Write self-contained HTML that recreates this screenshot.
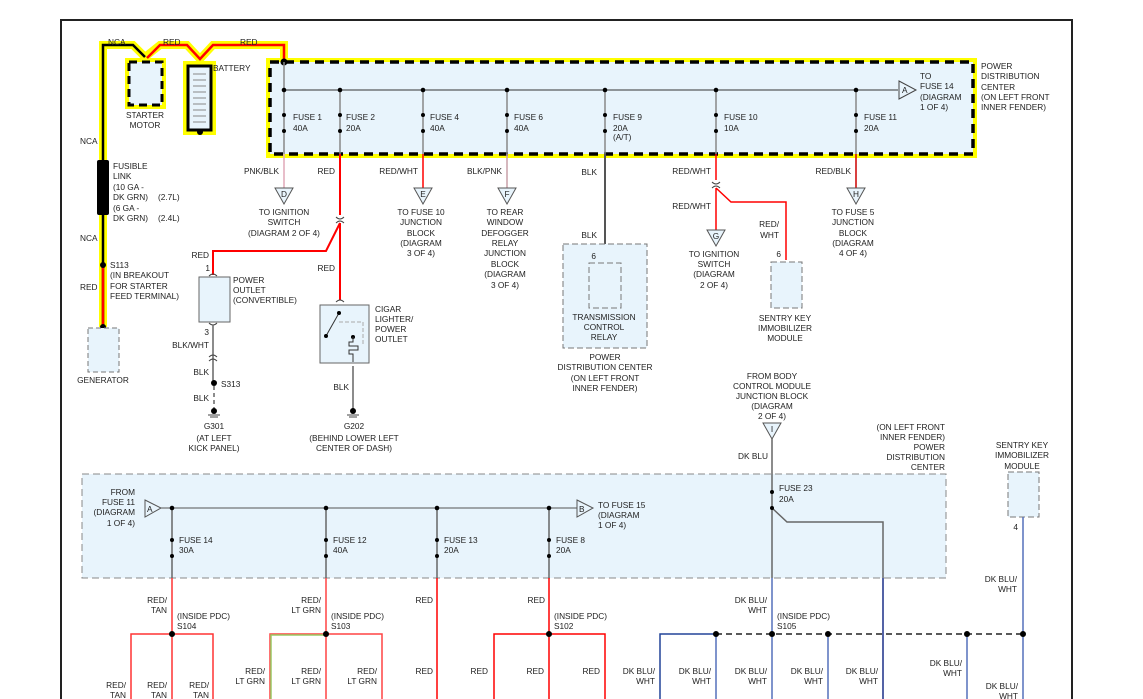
<!DOCTYPE html>
<html><head><meta charset="utf-8"><style>
html,body{margin:0;padding:0;background:#fff}
svg{display:block}
text{font-family:"Liberation Sans",sans-serif;font-size:8.3px;fill:#222}
.r{text-anchor:end}.m{text-anchor:middle}
</style></head><body>
<svg width="1143" height="699" viewBox="0 0 1143 699" xmlns="http://www.w3.org/2000/svg">
<rect x="61" y="20" width="1011" height="700" fill="#fff" stroke="#222" stroke-width="2"/>

<!-- yellow highlights -->
<g fill="none" stroke="#ffff00" stroke-width="8" stroke-linejoin="miter">
<path d="M103,327 V45 H133 L145,57 L160,45 H187 L200,59 L213,45 H284 V62"/>
<rect x="270" y="62" width="703" height="92"/>
<rect x="129" y="62" width="33" height="43"/>
<rect x="187" y="65" width="25" height="66"/>
</g>
<!-- top PDC -->
<rect x="270" y="62" width="703" height="92" fill="#e8f4fc"/>
<rect x="129" y="62" width="33" height="43" fill="#e8f4fc"/>
<rect x="270" y="62" width="703" height="92" fill="none" stroke="#000" stroke-width="3.5" stroke-dasharray="9,6"/>
<rect x="129" y="62" width="33" height="43" fill="none" stroke="#000" stroke-width="3" stroke-dasharray="8,5"/>
<rect x="188" y="66" width="23" height="64" fill="#e8f4fc" stroke="#000" stroke-width="3"/>
<g stroke="#888" stroke-width="1"><line x1="193" y1="74" x2="206" y2="74"/><line x1="193" y1="80" x2="206" y2="80"/><line x1="193" y1="86" x2="206" y2="86"/><line x1="193" y1="92" x2="206" y2="92"/><line x1="193" y1="98" x2="206" y2="98"/><line x1="193" y1="104" x2="206" y2="104"/><line x1="193" y1="110" x2="206" y2="110"/><line x1="193" y1="116" x2="206" y2="116"/><line x1="193" y1="122" x2="206" y2="122"/></g>
<circle cx="200" cy="132" r="3" fill="#000"/>

<!-- top wires -->
<path d="M103,327 V45 H133 L145,57" fill="none" stroke="#000" stroke-width="2.5"/>
<path d="M147,58 L160,45 H187 L200,59 L213,45 H284 V62" fill="none" stroke="#f00" stroke-width="2.5"/>
<line x1="103" y1="265" x2="103" y2="327" stroke="#f00" stroke-width="2.5"/>
<rect x="97" y="160" width="12" height="55" fill="#000" rx="2"/>
<circle cx="284" cy="62" r="3.5" fill="#000"/>
<line x1="284" y1="90" x2="898" y2="90" stroke="#333" stroke-width="1"/>
<path d="M899,81 L916,90 L899,99 Z" fill="#e8f4fc" stroke="#444"/>
<text x="902" y="93">A</text>

<g stroke="#888" stroke-width="1.5" fill="none">
<line x1="284" y1="62" x2="284" y2="154"/>
<line x1="340" y1="90" x2="340" y2="154"/>
<line x1="423" y1="90" x2="423" y2="154"/>
<line x1="507" y1="90" x2="507" y2="154"/>
<line x1="605" y1="90" x2="605" y2="154"/>
<line x1="716" y1="90" x2="716" y2="154"/>
<line x1="856" y1="90" x2="856" y2="154"/>
</g>
<g fill="#000">
<circle cx="284" cy="90" r="2.3"/><circle cx="340" cy="90" r="2.3"/><circle cx="423" cy="90" r="2.3"/><circle cx="507" cy="90" r="2.3"/><circle cx="605" cy="90" r="2.3"/><circle cx="716" cy="90" r="2.3"/><circle cx="856" cy="90" r="2.3"/>
<circle cx="284" cy="115" r="2"/><circle cx="284" cy="131" r="2"/>
<circle cx="340" cy="115" r="2"/><circle cx="340" cy="131" r="2"/>
<circle cx="423" cy="115" r="2"/><circle cx="423" cy="131" r="2"/>
<circle cx="507" cy="115" r="2"/><circle cx="507" cy="131" r="2"/>
<circle cx="605" cy="115" r="2"/><circle cx="605" cy="131" r="2"/>
<circle cx="716" cy="115" r="2"/><circle cx="716" cy="131" r="2"/>
<circle cx="856" cy="115" r="2"/><circle cx="856" cy="131" r="2"/>
</g>
<text x="293" y="120">FUSE 1</text><text x="293" y="131">40A</text>
<text x="346" y="120">FUSE 2</text><text x="346" y="131">20A</text>
<text x="430" y="120">FUSE 4</text><text x="430" y="131">40A</text>
<text x="514" y="120">FUSE 6</text><text x="514" y="131">40A</text>
<text x="613" y="120">FUSE 9</text><text x="613" y="131">20A</text><text x="613" y="140">(A/T)</text>
<text x="724" y="120">FUSE 10</text><text x="724" y="131">10A</text>
<text x="864" y="120">FUSE 11</text><text x="864" y="131">20A</text>
<text x="920" y="79">TO</text><text x="920" y="89">FUSE 14</text><text x="920" y="100">(DIAGRAM</text><text x="920" y="110">1 OF 4)</text>
<text x="981" y="69">POWER</text><text x="981" y="79">DISTRIBUTION</text><text x="981" y="90">CENTER</text><text x="981" y="100">(ON LEFT FRONT</text><text x="981" y="110">INNER FENDER)</text>

<text x="108" y="45">NCA</text><text x="163" y="45">RED</text><text x="240" y="45">RED</text>
<text x="213" y="71">BATTERY</text>
<text x="145" y="118" class="m">STARTER</text><text x="145" y="128" class="m">MOTOR</text>
<text x="80" y="144">NCA</text><text x="80" y="241">NCA</text><text x="80" y="290">RED</text>
<text x="113" y="169">FUSIBLE</text><text x="113" y="179">LINK</text><text x="113" y="190">(10 GA -</text><text x="113" y="200">DK GRN)</text><text x="158" y="200">(2.7L)</text><text x="113" y="211">(6 GA -</text><text x="113" y="221">DK GRN)</text><text x="158" y="221">(2.4L)</text>
<circle cx="103" cy="265" r="3" fill="#000"/><circle cx="103" cy="327" r="3" fill="#000"/>
<text x="110" y="268">S113</text><text x="110" y="278">(IN BREAKOUT</text><text x="110" y="289">FOR STARTER</text><text x="110" y="299">FEED TERMINAL)</text>
<rect x="88" y="328" width="31" height="44" fill="#e8f4fc" stroke="#777" stroke-dasharray="5,3"/>
<text x="103" y="383" class="m">GENERATOR</text>

<!-- down wires from top PDC -->
<line x1="284" y1="154" x2="284" y2="188" stroke="#e0a8b8" stroke-width="1.5"/>
<line x1="340" y1="154" x2="340" y2="215" stroke="#f00" stroke-width="2"/>
<path d="M336,217 Q340,221 344,217 M336,223 Q340,219 344,223" fill="none" stroke="#444"/>
<path d="M340,223 L326,251 H213 V275" fill="none" stroke="#f00" stroke-width="2"/>
<line x1="340" y1="223" x2="340" y2="300" stroke="#f00" stroke-width="2"/>
<line x1="423" y1="154" x2="423" y2="188" stroke="#f00" stroke-width="1.5"/>
<line x1="507" y1="154" x2="507" y2="188" stroke="#c8a0a8" stroke-width="1.5"/>
<line x1="605" y1="154" x2="605" y2="262" stroke="#555" stroke-width="2"/>
<line x1="716" y1="154" x2="716" y2="180" stroke="#f00" stroke-width="1.5"/>
<path d="M712,182 Q716,186 720,182 M712,188 Q716,184 720,188" fill="none" stroke="#444"/>
<path d="M716,188 V230 M716,188 L731,202 H786 V260" fill="none" stroke="#f00" stroke-width="1.5"/>
<line x1="856" y1="154" x2="856" y2="188" stroke="#c00" stroke-width="1.5"/>
<g fill="#e8f4fc" stroke="#555">
<path d="M275,188 H293 L284,204 Z"/><path d="M414,188 H432 L423,204 Z"/><path d="M498,188 H516 L507,204 Z"/><path d="M707,230 H725 L716,246 Z"/><path d="M847,188 H865 L856,204 Z"/><path d="M763,423 H781 L772,439 Z"/>
</g>
<text x="284" y="197" class="m">D</text><text x="423" y="197" class="m">E</text><text x="507" y="197" class="m">F</text><text x="716" y="239" class="m">G</text><text x="856" y="197" class="m">H</text><text x="772" y="432" class="m">I</text>
<text x="279" y="174" class="r">PNK/BLK</text><text x="335" y="174" class="r">RED</text><text x="418" y="174" class="r">RED/WHT</text><text x="502" y="174" class="r">BLK/PNK</text><text x="711" y="174" class="r">RED/WHT</text><text x="851" y="174" class="r">RED/BLK</text>
<text x="711" y="209" class="r">RED/WHT</text><text x="779" y="227" class="r">RED/</text><text x="779" y="238" class="r">WHT</text>
<text x="284" y="215" class="m">TO IGNITION</text><text x="284" y="225" class="m">SWITCH</text><text x="284" y="236" class="m">(DIAGRAM 2 OF 4)</text>
<text x="421" y="215" class="m">TO FUSE 10</text><text x="421" y="225" class="m">JUNCTION</text><text x="421" y="236" class="m">BLOCK</text><text x="421" y="246" class="m">(DIAGRAM</text><text x="421" y="256" class="m">3 OF 4)</text>
<text x="505" y="215" class="m">TO REAR</text><text x="505" y="225" class="m">WINDOW</text><text x="505" y="236" class="m">DEFOGGER</text><text x="505" y="246" class="m">RELAY</text><text x="505" y="256" class="m">JUNCTION</text><text x="505" y="267" class="m">BLOCK</text><text x="505" y="277" class="m">(DIAGRAM</text><text x="505" y="288" class="m">3 OF 4)</text>
<text x="714" y="257" class="m">TO IGNITION</text><text x="714" y="267" class="m">SWITCH</text><text x="714" y="277" class="m">(DIAGRAM</text><text x="714" y="288" class="m">2 OF 4)</text>
<text x="853" y="215" class="m">TO FUSE 5</text><text x="853" y="225" class="m">JUNCTION</text><text x="853" y="236" class="m">BLOCK</text><text x="853" y="246" class="m">(DIAGRAM</text><text x="853" y="256" class="m">4 OF 4)</text>

<!-- power outlet -->
<text x="209" y="258" class="r">RED</text><text x="210" y="271" class="r">1</text>
<path d="M209,276 Q213,272 217,276" fill="none" stroke="#444"/>
<rect x="199" y="277" width="31" height="45" fill="#e8f4fc" stroke="#666"/>
<text x="233" y="283">POWER</text><text x="233" y="293">OUTLET</text><text x="233" y="303">(CONVERTIBLE)</text>
<path d="M209,323 Q213,327 217,323" fill="none" stroke="#444"/>
<text x="209" y="335" class="r">3</text>
<line x1="213" y1="325" x2="213" y2="383" stroke="#666" stroke-width="1.5"/>
<path d="M209,357 Q213,353 217,357 M209,361 Q213,357 217,361" fill="none" stroke="#444"/>
<text x="209" y="348" class="r">BLK/WHT</text><text x="209" y="375" class="r">BLK</text><text x="209" y="401" class="r">BLK</text>
<circle cx="214" cy="383" r="3" fill="#000"/><text x="221" y="387">S313</text>
<line x1="214" y1="386" x2="214" y2="410" stroke="#666" stroke-width="1.5" stroke-dasharray="4,3"/>
<circle cx="214" cy="411" r="3" fill="#000"/><line x1="208" y1="415" x2="220" y2="415" stroke="#444"/><line x1="210" y1="417" x2="218" y2="417" stroke="#444"/>
<text x="214" y="429" class="m">G301</text><text x="214" y="441" class="m">(AT LEFT</text><text x="214" y="451" class="m">KICK PANEL)</text>

<!-- cigar lighter -->
<text x="335" y="271" class="r">RED</text>
<path d="M336,302 Q340,298 344,302" fill="none" stroke="#444"/>
<rect x="320" y="305" width="49" height="58" fill="#e8f4fc" stroke="#666"/>
<path d="M339,322 H363 V346" fill="none" stroke="#aaa" stroke-dasharray="4,2"/>
<line x1="326" y1="336" x2="339" y2="313" stroke="#333"/>
<circle cx="339" cy="313" r="2" fill="#000"/><circle cx="326" cy="336" r="2" fill="#000"/><circle cx="353" cy="337" r="2" fill="#000"/>
<path d="M353,337 V342 H349 V346 H358 V350 H349 V354 H353 V362" fill="none" stroke="#333"/>
<text x="375" y="312">CIGAR</text><text x="375" y="322">LIGHTER/</text><text x="375" y="332">POWER</text><text x="375" y="342">OUTLET</text>
<line x1="353" y1="366" x2="353" y2="409" stroke="#666" stroke-width="1.5"/>
<text x="349" y="390" class="r">BLK</text>
<circle cx="353" cy="411" r="3" fill="#000"/><line x1="347" y1="415" x2="359" y2="415" stroke="#444"/><line x1="349" y1="417" x2="357" y2="417" stroke="#444"/>
<text x="354" y="429" class="m">G202</text><text x="354" y="441" class="m">(BEHIND LOWER LEFT</text><text x="354" y="451" class="m">CENTER OF DASH)</text>

<!-- relay -->
<rect x="563" y="244" width="84" height="104" fill="#e8f4fc" stroke="#777" stroke-dasharray="6,3"/>
<rect x="589" y="263" width="32" height="45" fill="#e8f4fc" stroke="#777" stroke-dasharray="6,3"/>
<text x="597" y="175" class="r">BLK</text><text x="597" y="238" class="r">BLK</text><text x="596" y="259" class="r">6</text>
<text x="604" y="320" class="m">TRANSMISSION</text><text x="604" y="330" class="m">CONTROL</text><text x="604" y="340" class="m">RELAY</text>
<text x="605" y="360" class="m">POWER</text><text x="605" y="370" class="m">DISTRIBUTION CENTER</text><text x="605" y="381" class="m">(ON LEFT FRONT</text><text x="605" y="391" class="m">INNER FENDER)</text>
<rect x="771" y="262" width="31" height="46" fill="#e8f4fc" stroke="#777" stroke-dasharray="6,3"/>
<text x="781" y="257" class="r">6</text>
<text x="785" y="321" class="m">SENTRY KEY</text><text x="785" y="331" class="m">IMMOBILIZER</text><text x="785" y="341" class="m">MODULE</text>
<text x="772" y="379" class="m">FROM BODY</text><text x="772" y="389" class="m">CONTROL MODULE</text><text x="772" y="399" class="m">JUNCTION BLOCK</text><text x="772" y="409" class="m">(DIAGRAM</text><text x="772" y="419" class="m">2 OF 4)</text>
<text x="768" y="459" class="r">DK BLU</text>
<text x="945" y="430" class="r">(ON LEFT FRONT</text><text x="945" y="440" class="r">INNER FENDER)</text><text x="945" y="450" class="r">POWER</text><text x="945" y="460" class="r">DISTRIBUTION</text><text x="945" y="470" class="r">CENTER</text>
<text x="1022" y="448" class="m">SENTRY KEY</text><text x="1022" y="458" class="m">IMMOBILIZER</text><text x="1022" y="469" class="m">MODULE</text>

<!-- bottom PDC -->
<rect x="82" y="474" width="864" height="104" fill="#e8f4fc" stroke="#888" stroke-dasharray="7,4"/>
<rect x="1008" y="472" width="31" height="45" fill="#e8f4fc" stroke="#777" stroke-dasharray="6,3"/>
<line x1="160" y1="508" x2="577" y2="508" stroke="#555"/>
<path d="M145,500 L161,508 L145,517 Z" fill="#e8f4fc" stroke="#555"/><text x="147" y="512">A</text>
<path d="M577,500 L593,508 L577,517 Z" fill="#e8f4fc" stroke="#555"/><text x="579" y="512">B</text>
<text x="135" y="495" class="r">FROM</text><text x="135" y="505" class="r">FUSE 11</text><text x="135" y="515" class="r">(DIAGRAM</text><text x="135" y="526" class="r">1 OF 4)</text>
<text x="598" y="508">TO FUSE 15</text><text x="598" y="518">(DIAGRAM</text><text x="598" y="528">1 OF 4)</text>
<g stroke="#666" stroke-width="1.5"><line x1="172" y1="508" x2="172" y2="578"/><line x1="326" y1="508" x2="326" y2="578"/><line x1="437" y1="508" x2="437" y2="578"/><line x1="549" y1="508" x2="549" y2="578"/><line x1="772" y1="438" x2="772" y2="578"/></g>
<path d="M772,508 L787,522 H883 V578" fill="none" stroke="#666" stroke-width="1.5"/>
<g fill="#000"><circle cx="172" cy="508" r="2.3"/><circle cx="326" cy="508" r="2.3"/><circle cx="437" cy="508" r="2.3"/><circle cx="549" cy="508" r="2.3"/>
<circle cx="172" cy="540" r="2"/><circle cx="172" cy="556" r="2"/><circle cx="326" cy="540" r="2"/><circle cx="326" cy="556" r="2"/><circle cx="437" cy="540" r="2"/><circle cx="437" cy="556" r="2"/><circle cx="549" cy="540" r="2"/><circle cx="549" cy="556" r="2"/><circle cx="772" cy="492" r="2"/><circle cx="772" cy="508" r="2"/></g>
<text x="179" y="543">FUSE 14</text><text x="179" y="553">30A</text>
<text x="333" y="543">FUSE 12</text><text x="333" y="553">40A</text>
<text x="444" y="543">FUSE 13</text><text x="444" y="553">20A</text>
<text x="556" y="543">FUSE 8</text><text x="556" y="553">20A</text>
<text x="779" y="491">FUSE 23</text><text x="779" y="502">20A</text>

<!-- bottom wires -->
<g fill="none" stroke-width="1.5">
<path d="M172,578 V699 M131,699 V634 H213 V699" stroke="#f33"/>
<path d="M326,578 V699 M270,699 V634 H382 V699" stroke="#f44"/>
<path d="M271,699 V635 H325" stroke="#9c6"/>
<line x1="437" y1="578" x2="437" y2="699" stroke="#f00"/>
<path d="M549,578 V699 M494,699 V634 H605 V699" stroke="#f00"/>
<path d="M660,699 V634 H716" stroke="#224499"/>
<path d="M716,634 V699 M772,578 V699 M828,634 V699 M967,634 V699 M1023,517 V699" stroke="#5570bb"/>
<line x1="883" y1="578" x2="883" y2="699" stroke="#1a2f88"/>
<line x1="716" y1="634" x2="1023" y2="634" stroke="#222" stroke-dasharray="6,4"/>
</g>
<g fill="#000"><circle cx="172" cy="634" r="3"/><circle cx="326" cy="634" r="3"/><circle cx="549" cy="634" r="3"/><circle cx="716" cy="634" r="3"/><circle cx="772" cy="634" r="3"/><circle cx="828" cy="634" r="3"/><circle cx="967" cy="634" r="3"/><circle cx="1023" cy="634" r="3"/></g>
<text x="1018" y="530" class="r">4</text>
<text x="167" y="603" class="r">RED/</text><text x="167" y="613" class="r">TAN</text>
<text x="321" y="603" class="r">RED/</text><text x="321" y="613" class="r">LT GRN</text>
<text x="433" y="603" class="r">RED</text><text x="545" y="603" class="r">RED</text>
<text x="767" y="603" class="r">DK BLU/</text><text x="767" y="613" class="r">WHT</text>
<text x="1017" y="582" class="r">DK BLU/</text><text x="1017" y="592" class="r">WHT</text>
<text x="177" y="619">(INSIDE PDC)</text><text x="177" y="629">S104</text>
<text x="331" y="619">(INSIDE PDC)</text><text x="331" y="629">S103</text>
<text x="554" y="619">(INSIDE PDC)</text><text x="554" y="629">S102</text>
<text x="777" y="619">(INSIDE PDC)</text><text x="777" y="629">S105</text>
<text x="126" y="688" class="r">RED/</text><text x="126" y="698" class="r">TAN</text>
<text x="167" y="688" class="r">RED/</text><text x="167" y="698" class="r">TAN</text>
<text x="209" y="688" class="r">RED/</text><text x="209" y="698" class="r">TAN</text>
<text x="265" y="674" class="r">RED/</text><text x="265" y="684" class="r">LT GRN</text>
<text x="321" y="674" class="r">RED/</text><text x="321" y="684" class="r">LT GRN</text>
<text x="377" y="674" class="r">RED/</text><text x="377" y="684" class="r">LT GRN</text>
<text x="433" y="674" class="r">RED</text><text x="488" y="674" class="r">RED</text><text x="544" y="674" class="r">RED</text><text x="600" y="674" class="r">RED</text>
<text x="655" y="674" class="r">DK BLU/</text><text x="655" y="684" class="r">WHT</text>
<text x="711" y="674" class="r">DK BLU/</text><text x="711" y="684" class="r">WHT</text>
<text x="767" y="674" class="r">DK BLU/</text><text x="767" y="684" class="r">WHT</text>
<text x="823" y="674" class="r">DK BLU/</text><text x="823" y="684" class="r">WHT</text>
<text x="878" y="674" class="r">DK BLU/</text><text x="878" y="684" class="r">WHT</text>
<text x="962" y="666" class="r">DK BLU/</text><text x="962" y="676" class="r">WHT</text>
<text x="1018" y="689" class="r">DK BLU/</text><text x="1018" y="699" class="r">WHT</text>
</svg>
</body></html>
